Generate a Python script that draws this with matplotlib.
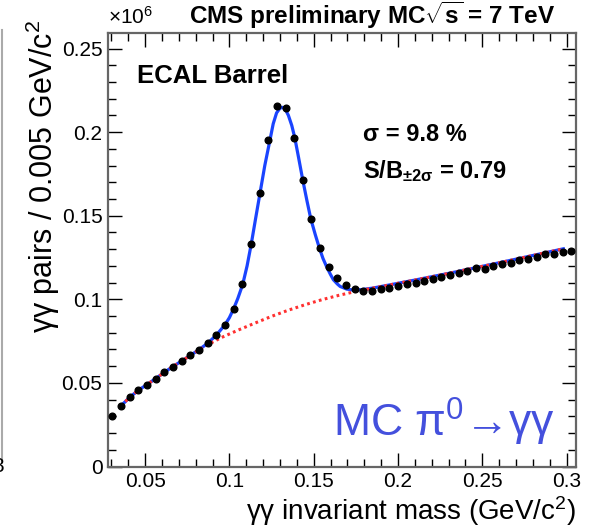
import numpy as np
import matplotlib.pyplot as plt
from matplotlib.ticker import MultipleLocator, FuncFormatter
from matplotlib.lines import Line2D

plt.rcParams['font.family'] = ['Liberation Sans', 'DejaVu Sans']
plt.rcParams['mathtext.fontset'] = 'custom'
plt.rcParams['mathtext.rm'] = 'Liberation Sans'
plt.rcParams['mathtext.it'] = 'Liberation Sans:italic'
plt.rcParams['mathtext.bf'] = 'Liberation Sans:bold'

# points MC (unites de 1e6 paires)
mass_bins = [0.0306, 0.0357, 0.0409, 0.0460, 0.0511, 0.0563, 0.0614, 0.0665, 0.0717,
             0.0768, 0.0820, 0.0871, 0.0922, 0.0974, 0.1025, 0.1076, 0.1128, 0.1179,
             0.1230, 0.1282, 0.1333, 0.1384, 0.1436, 0.1487, 0.1539, 0.1590, 0.1641,
             0.1693, 0.1744, 0.1795, 0.1847, 0.1898, 0.1949, 0.2001, 0.2052, 0.2104,
             0.2155, 0.2206, 0.2258, 0.2309, 0.2360, 0.2412, 0.2463, 0.2514, 0.2566,
             0.2617, 0.2668, 0.2720, 0.2771, 0.2823, 0.2874, 0.2925, 0.2977, 0.3028]
pairs = [0.0305, 0.0363, 0.0414, 0.0456, 0.0489, 0.0526, 0.0566, 0.0598, 0.0630,
         0.0664, 0.0698, 0.0740, 0.0789, 0.0849, 0.0943, 0.1089, 0.1332, 0.1637,
         0.1954, 0.2159, 0.2147, 0.1966, 0.1715, 0.1481, 0.1306, 0.1196, 0.1129,
         0.1087, 0.1059, 0.1050, 0.1048, 0.1063, 0.1065, 0.1080, 0.1092, 0.1099,
         0.1108, 0.1124, 0.1136, 0.1147, 0.1156, 0.1168, 0.1186, 0.1181, 0.1200,
         0.1214, 0.1220, 0.1233, 0.1244, 0.1252, 0.1269, 0.1271, 0.1283, 0.1286]

# ajustement total (signal + fond)
fit_mass = [0.0357, 0.0409, 0.0460, 0.0511, 0.0563, 0.0614, 0.0665, 0.0717, 0.0768,
            0.0820, 0.0871, 0.0922, 0.0974, 0.1000, 0.1025, 0.1050, 0.1079, 0.1105,
            0.1130, 0.1155, 0.1182, 0.1210, 0.1241, 0.1260, 0.1280, 0.1300, 0.1314,
            0.1330, 0.1350, 0.1370, 0.1388, 0.1410, 0.1435, 0.1460, 0.1483, 0.1510,
            0.1534, 0.1555, 0.1578, 0.1600, 0.1617, 0.1640, 0.1657, 0.1696, 0.1736,
            0.1785, 0.1850, 0.1950, 0.2100, 0.2300, 0.2500, 0.2700, 0.2981]
fit_total = [0.0363, 0.0414, 0.0456, 0.0490, 0.0526, 0.0563, 0.0598, 0.0631, 0.0664,
             0.0699, 0.0737, 0.0785, 0.0848, 0.0890, 0.0943, 0.1005, 0.1089, 0.1200,
             0.1332, 0.1480, 0.1637, 0.1800, 0.1954, 0.2050, 0.2115, 0.2143, 0.2148,
             0.2140, 0.2100, 0.2040, 0.1966, 0.1850, 0.1715, 0.1590, 0.1481, 0.1385,
             0.1306, 0.1245, 0.1192, 0.1148, 0.1117, 0.1092, 0.1077, 0.1061, 0.1055,
             0.1058, 0.1067, 0.1086, 0.1115, 0.1155, 0.1197, 0.1240, 0.1302]

# fond seul
bkg_mass = [0.0357, 0.0409, 0.0460, 0.0511, 0.0563, 0.0614, 0.0665, 0.0717, 0.0768,
            0.0820, 0.0871, 0.095, 0.105, 0.115, 0.125, 0.135, 0.145, 0.155, 0.165,
            0.175, 0.185, 0.195, 0.21, 0.23, 0.25, 0.27, 0.2981]
bkg_vals = [0.0363, 0.0414, 0.0456, 0.0490, 0.0526, 0.0563, 0.0598, 0.0631, 0.0664,
            0.0697, 0.0728, 0.0770, 0.0815, 0.0857, 0.0898, 0.0935, 0.0968, 0.0998,
            0.1024, 0.1047, 0.1067, 0.1086, 0.1115, 0.1155, 0.1197, 0.1240, 0.1302]

W, H = 594, 528
fig = plt.figure(figsize=(W / 100, H / 100), dpi=100)
ax = fig.add_axes([108 / W, 1 - 466.5 / H, (576 - 108) / W, (466.5 - 33.3) / H])

ax.plot(bkg_mass, bkg_vals, color='#ff3030', lw=2.2, linestyle=(0, (0.9, 1.1)), zorder=3)
ax.plot(fit_mass, fit_total, color='#1a44ff', lw=2.3, zorder=2)
ax.plot(mass_bins, pairs, 'o', color='black', ms=4.8, zorder=4)

ax.set_xlim(0.028, 0.3056)
ax.set_ylim(0, 0.2591)
ax.xaxis.set_major_locator(MultipleLocator(0.05))
ax.xaxis.set_minor_locator(MultipleLocator(0.01))
ax.yaxis.set_major_locator(MultipleLocator(0.05))
ax.yaxis.set_minor_locator(MultipleLocator(0.01))
fmt = FuncFormatter(lambda v, p: '%g' % round(v, 3))
ax.xaxis.set_major_formatter(fmt)
ax.yaxis.set_major_formatter(fmt)
ax.tick_params(which='both', direction='in', top=True, right=True, labelsize=15,
               color='black', width=1.0)
ax.tick_params(which='major', length=10)
ax.tick_params(which='minor', length=5.5)
ax.tick_params(axis='x', pad=4)
ax.tick_params(axis='y', pad=4)
for s in ax.spines.values():
    s.set_color('#666666')
    s.set_linewidth(1.6)

# textes
fig.text(108 / W, 1 - 24 / H, r'$\times10^{6}$', fontsize=15, ha='left', va='baseline')
fig.text(555 / W, 1 - 24 / H, r'CMS preliminary MC$\sqrt{\mathbf{s}}$ = 7 TeV',
         fontsize=17.5, fontweight='bold', ha='right', va='baseline')
ax.text(137 / W, 1 - 83 / H, 'ECAL Barrel', transform=fig.transFigure,
        fontsize=18.5, fontweight='bold', ha='left', va='baseline')
ax.text(363 / W, 1 - 141 / H, 'σ = 9.8 %', transform=fig.transFigure,
        fontsize=17, fontweight='bold', ha='left', va='baseline')
ax.text(363 / W, 1 - 178 / H, r'S/B$_{\mathbf{\pm2σ}}$ = 0.79', transform=fig.transFigure,
        fontsize=17, fontweight='bold', ha='left', va='baseline')
ax.text(555 / W, 1 - 437 / H, r'MC π$^{0}$→γγ', transform=fig.transFigure,
        fontsize=32, color='#4450dd', ha='right', va='baseline')

fig.text(43 / W, 1 - 20 / H, r'γγ pairs / 0.005 GeV/c$^{2}$', fontsize=22,
         rotation=90, ha='center', va='top')
fig.text(576 / W, 1 - 511 / H, r'γγ invariant mass (GeV/c$^{2}$)', fontsize=20,
         ha='right', va='center')

# bord du panneau voisin
fig.add_artist(Line2D([1.5 / W, 1.5 / W], [1 - 30 / H, 1 - 462 / H], color='#aaaaaa', lw=1.5))
fig.text(-8 / W, 1 - 466 / H, '8', fontsize=15, ha='left', va='center')

fig.savefig('out.png', dpi=100)
